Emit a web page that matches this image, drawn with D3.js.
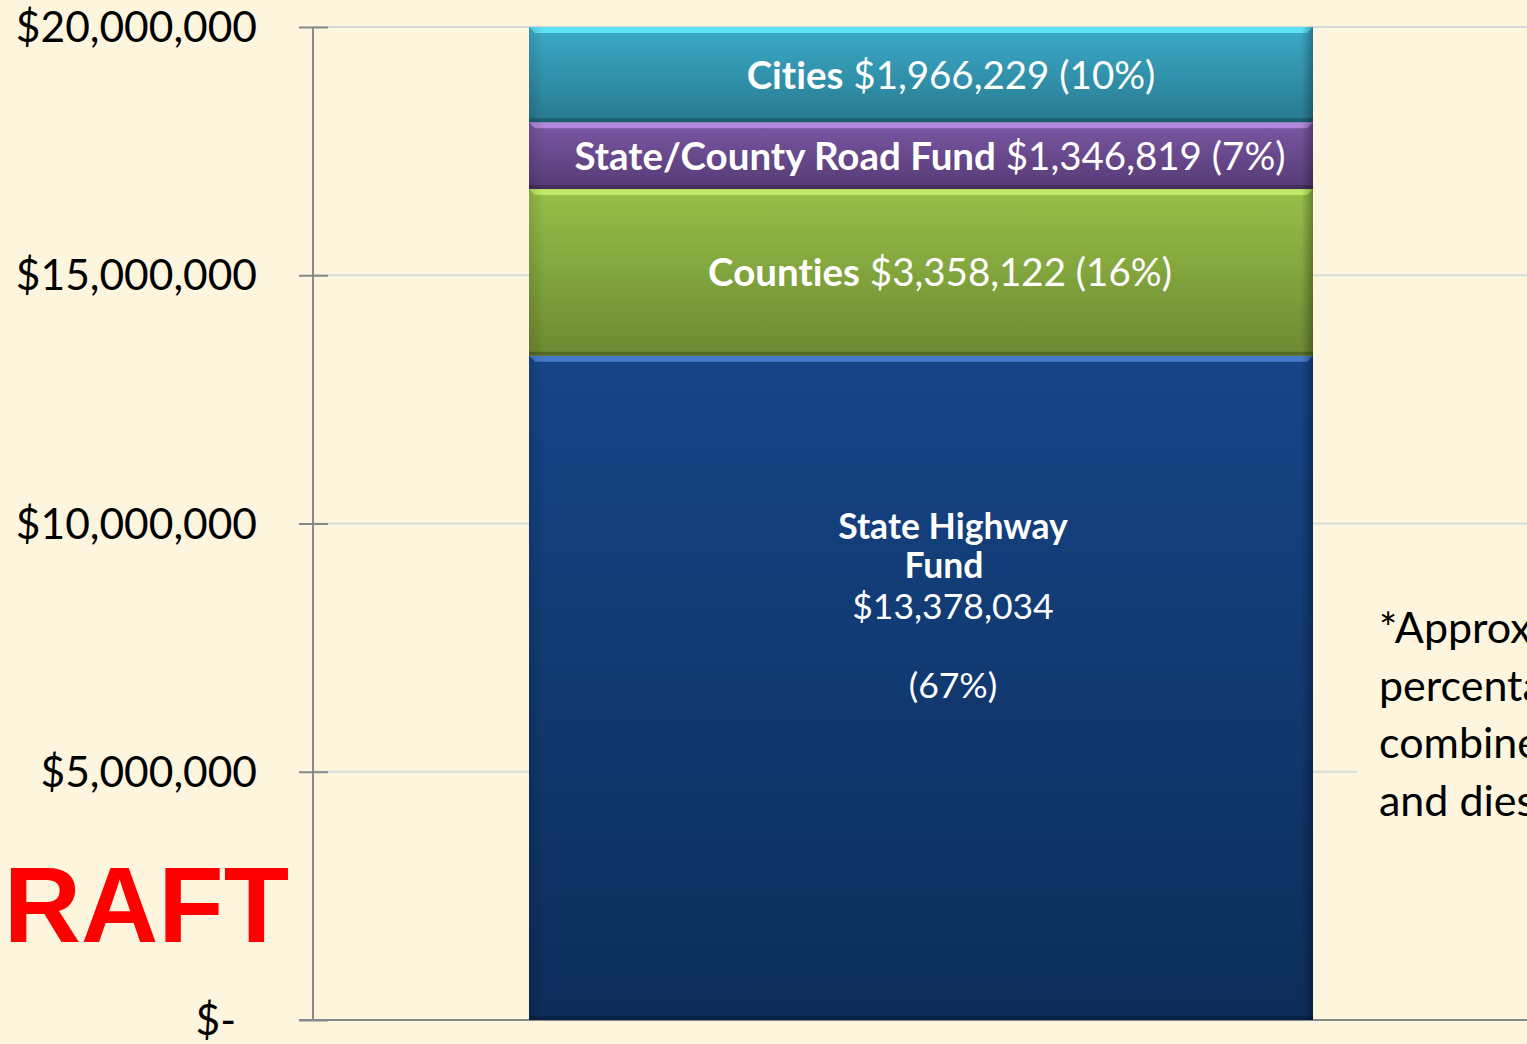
<!DOCTYPE html>
<html lang="en">
<head>
<meta charset="utf-8" />
<title>Fuel tax distribution</title>
<script src="https://cdn.jsdelivr.net/npm/d3@7"></script>
<style>
  body { margin: 0; background: #fdf5de; overflow: hidden; }
  svg { display: block; font-family: Lato, "Open Sans", sans-serif; font-variant-ligatures: none; }
  .tick-label { font-size: 42.5px; fill: #000; }
  .seg-label { font-size: 38.5px; fill: #fff; }
  .seg-label .name { font-weight: bold; }
  .hw-label { font-size: 35.5px; fill: #fff; }
  .note { font-size: 43px; fill: #000; }
  .draft { font-family: "Liberation Sans", Arial, sans-serif; font-weight: bold; font-size: 107px; fill: #ff0000; }
</style>
</head>
<body>
<div id="chart"></div>
<script>
  var width = 1527;
  var height = 1044;

  // data, bottom to top of the stack
  var keys = ["highway", "counties", "roadfund", "cities"];
  var names = ["State Highway Fund", "Counties", "State/County Road Fund", "Cities"];
  var amounts = [13378034, 3358122, 1346819, 1966229];
  var percents = ["67%", "16%", "7%", "10%"];
  var yTicks = [0, 5000000, 10000000, 15000000, 20000000];
  var tickLabels = ["$-", "$5,000,000", "$10,000,000", "$15,000,000", "$20,000,000"];
  var noteLines = ["*Approximate", "percentages of", "combined gas", "and diesel tax"];

  // segment colours: top of gradient, bottom of gradient, bevel highlight
  var colors = {
    highway:  ["#164587", "#0c2d5a", "#4c84d2"],
    counties: ["#98c049", "#6c8932", "#c8f26c"],
    roadfund: ["#7b57a4", "#563b75", "#b892e6"],
    cities:   ["#3cabca", "#277a8f", "#63ecfa"]
  };

  var row = {};
  keys.forEach(function(k, i) { row[k] = amounts[i]; });
  var series = d3.stack().keys(keys)([row]);

  var y = d3.scaleLinear()
      .domain([0, 20000000])
      .range([1020, 27])
      .clamp(true);

  var x = d3.scaleBand()
      .domain(["total"])
      .range([313, 1529])
      .padding(0.216);

  var svg = d3.select("#chart").append("svg")
      .attr("width", width)
      .attr("height", height);

  var defs = svg.append("defs");
  keys.forEach(function(k) {
    var g = defs.append("linearGradient")
        .attr("id", "grad-" + k)
        .attr("x1", 0).attr("y1", 0).attr("x2", 0).attr("y2", 1);
    g.append("stop").attr("offset", "0%").attr("stop-color", colors[k][0]);
    g.append("stop").attr("offset", "100%").attr("stop-color", colors[k][1]);
  });
  var side = defs.append("linearGradient")
      .attr("id", "side-shade")
      .attr("x1", 0).attr("y1", 0).attr("x2", 1).attr("y2", 0);
  side.append("stop").attr("offset", "0%").attr("stop-color", "#000").attr("stop-opacity", 0.12);
  side.append("stop").attr("offset", "2%").attr("stop-color", "#000").attr("stop-opacity", 0);
  side.append("stop").attr("offset", "98.5%").attr("stop-color", "#000").attr("stop-opacity", 0);
  side.append("stop").attr("offset", "100%").attr("stop-color", "#000").attr("stop-opacity", 0.3);

  // gridlines
  svg.append("g")
    .selectAll("line")
    .data(yTicks.slice(1))
    .join("line")
      .attr("x1", 313)
      .attr("x2", width)
      .attr("y1", function(d) { return y(d); })
      .attr("y2", function(d) { return y(d); })
      .attr("stroke", "#d9d9d9")
      .attr("stroke-width", 2);

  // axis
  var axis = svg.append("g")
      .attr("transform", "translate(313,0)")
      .call(d3.axisLeft(y).tickValues(yTicks).tickSize(14).tickFormat(""));
  axis.select(".domain").attr("stroke", "#898989").attr("stroke-width", 2).attr("d", "M0," + y(20000000) + "V" + y(0));
  axis.selectAll(".tick line").attr("stroke", "#898989").attr("stroke-width", 2).attr("x2", -14);
  axis.selectAll(".tick").append("line")
      .attr("x2", 15).attr("stroke", "#898989").attr("stroke-width", 2);

  svg.append("line")
      .attr("x1", 299).attr("x2", width)
      .attr("y1", y(0)).attr("y2", y(0))
      .attr("stroke", "#898989").attr("stroke-width", 2);

  svg.append("g")
    .selectAll("text")
    .data(yTicks)
    .join("text")
      .attr("class", "tick-label")
      .attr("x", function(d) { return d === 0 ? 236 : 257; })
      .attr("y", function(d) { return y(d) + 15; })
      .attr("text-anchor", "end")
      .text(function(d, i) { return tickLabels[i]; });

  // bar segments
  var bx = x("total");
  var bw = x.bandwidth();
  var seg = svg.append("g")
    .selectAll("g")
    .data(series)
    .join("g");

  seg.append("rect")
      .attr("x", bx)
      .attr("width", bw)
      .attr("y", function(d) { return y(d[0][1]); })
      .attr("height", function(d) { return y(d[0][0]) - y(d[0][1]); })
      .attr("fill", function(d) { return "url(#grad-" + d.key + ")"; });

  // bevel: top highlight trapezoid and dark bottom edge
  seg.append("path")
      .attr("d", function(d) {
        var t = y(d[0][1]);
        return "M" + bx + "," + t + "H" + (bx + bw) + "L" + (bx + bw - 6) + "," + (t + 6) +
               "H" + (bx + 6) + "Z";
      })
      .attr("fill", function(d) { return colors[d.key][2]; })
      .attr("opacity", 0.85);
  seg.append("rect")
      .attr("x", bx)
      .attr("width", bw)
      .attr("y", function(d) { return y(d[0][0]) - 4; })
      .attr("height", 4)
      .attr("fill", "#000")
      .attr("opacity", 0.22);
  seg.append("rect")
      .attr("x", bx)
      .attr("width", bw)
      .attr("y", function(d) { return y(d[0][1]); })
      .attr("height", function(d) { return y(d[0][0]) - y(d[0][1]); })
      .attr("fill", "url(#side-shade)");

  // labels for the three thin segments
  var labelShift = { counties: 19, roadfund: 9, cities: 30 };
  series.forEach(function(s, i) {
    if (s.key === "highway") return;
    var mid = (y(s[0][0]) + y(s[0][1])) / 2;
    var t = svg.append("text")
        .attr("class", "seg-label")
        .attr("x", bx + bw / 2 + labelShift[s.key])
        .attr("y", mid + 14)
        .attr("text-anchor", "middle");
    t.append("tspan").attr("class", "name").text(names[i]);
    t.append("tspan").text(" " + d3.format("$,")(amounts[i]) + " (" + percents[i] + ")");
  });

  // State Highway Fund label, stacked lines
  var hw = series[0][0];
  var hwTop = (y(hw[0]) + y(hw[1])) / 2 - 149;
  var hwLines = [
    { text: "State Highway", bold: true, dy: 0, dx: 0 },
    { text: "Fund", bold: true, dy: 39, dx: -9 },
    { text: d3.format("$,")(amounts[0]), bold: false, dy: 80, dx: 0 },
    { text: "(" + percents[0] + ")", bold: false, dy: 159, dx: 0 }
  ];
  svg.append("g")
    .selectAll("text")
    .data(hwLines)
    .join("text")
      .attr("class", "hw-label")
      .attr("x", function(d) { return bx + bw / 2 + 32 + d.dx; })
      .attr("y", function(d) { return hwTop + d.dy; })
      .attr("text-anchor", "middle")
      .attr("font-weight", function(d) { return d.bold ? "bold" : null; })
      .text(function(d) { return d.text; });

  // note box at the right, clipped by the page edge
  var note = svg.append("g");
  note.append("rect")
      .attr("x", 1357).attr("y", 570)
      .attr("width", 200).attr("height", 280)
      .attr("fill", "#fdf5de");
  note.selectAll("text")
    .data(noteLines)
    .join("text")
      .attr("class", "note")
      .attr("x", 1379)
      .attr("y", function(d, i) { return 643 + i * 57.5; })
      .text(function(d) { return d; });

  // DRAFT stamp
  svg.append("text")
      .attr("class", "draft")
      .attr("x", 289)
      .attr("y", 942)
      .attr("text-anchor", "end")
      .text("DRAFT");
</script>
</body>
</html>
